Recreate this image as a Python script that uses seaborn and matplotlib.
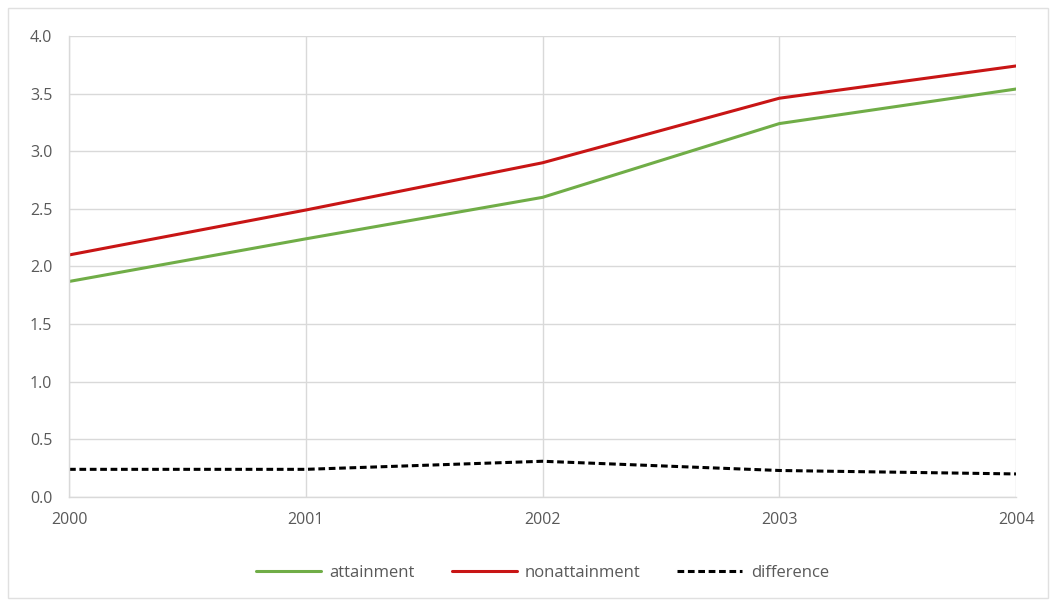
#!/usr/bin/env python3
# Attainment vs nonattainment line chart, 2000-2004

import matplotlib
matplotlib.use("Agg")
import matplotlib.pyplot as plt
import pandas as pd
import seaborn as sns
from matplotlib.patches import Rectangle

years = [2000, 2001, 2002, 2003, 2004]
attainment = [1.87, 2.24, 2.60, 3.24, 3.54]
nonattainment = [2.10, 2.49, 2.90, 3.46, 3.74]
difference = [0.24, 0.24, 0.31, 0.23, 0.20]
series_names = ["attainment", "nonattainment", "difference"]
y_ticks = [0.0, 0.5, 1.0, 1.5, 2.0, 2.5, 3.0, 3.5, 4.0]

df = pd.DataFrame({
    "year": years * 3,
    "value": attainment + nonattainment + difference,
    "series": [s for s in series_names for _ in years],
})

sns.set_style("white")
plt.rcParams["font.family"] = ["Open Sans", "DejaVu Sans"]
text_color = "#595959"
grid_color = "#d9d9d9"

fig = plt.figure(figsize=(10.54, 6.03), dpi=100)
ax = fig.add_axes([0.0655, 0.1758, 0.8985, 0.7645])

palette = {"attainment": "#70AD47", "nonattainment": "#C81515", "difference": "#000000"}
dashes = {"attainment": "", "nonattainment": "", "difference": (2.2, 1.2)}
sns.lineplot(data=df, x="year", y="value", hue="series", style="series",
             palette=palette, dashes=dashes, linewidth=2.2, ax=ax, legend=True)

ax.set_xlim(2000, 2004)
ax.set_ylim(0, 4.0)
ax.set_xticks(years)
ax.set_xticklabels([str(y) for y in years])
ax.set_yticks(y_ticks)
ax.set_yticklabels([f"{v:.1f}" for v in y_ticks])
ax.set_xlabel("")
ax.set_ylabel("")
ax.grid(True, color=grid_color, linewidth=1)
ax.set_axisbelow(True)
for side in ["top", "right"]:
    ax.spines[side].set_visible(False)
for side in ["left", "bottom"]:
    ax.spines[side].set_color(grid_color)
    ax.spines[side].set_linewidth(1)
ax.tick_params(axis="both", length=0, colors=text_color, labelsize=11.5)
ax.tick_params(axis="x", pad=11)
ax.tick_params(axis="y", pad=12)

handles, labels = ax.get_legend_handles_labels()
ax.legend(handles, labels, loc="upper center", bbox_to_anchor=(0.5, -0.115),
          ncol=3, frameon=False, fontsize=12, labelcolor=text_color,
          handlelength=3.9, columnspacing=2.2, handletextpad=0.5)

# light chart border like the original
fig.patches.append(Rectangle((0.008, 0.008), 0.986, 0.978, transform=fig.transFigure,
                             fill=False, edgecolor="#e0e0e0", linewidth=1))

fig.savefig("out.png", dpi=100)
